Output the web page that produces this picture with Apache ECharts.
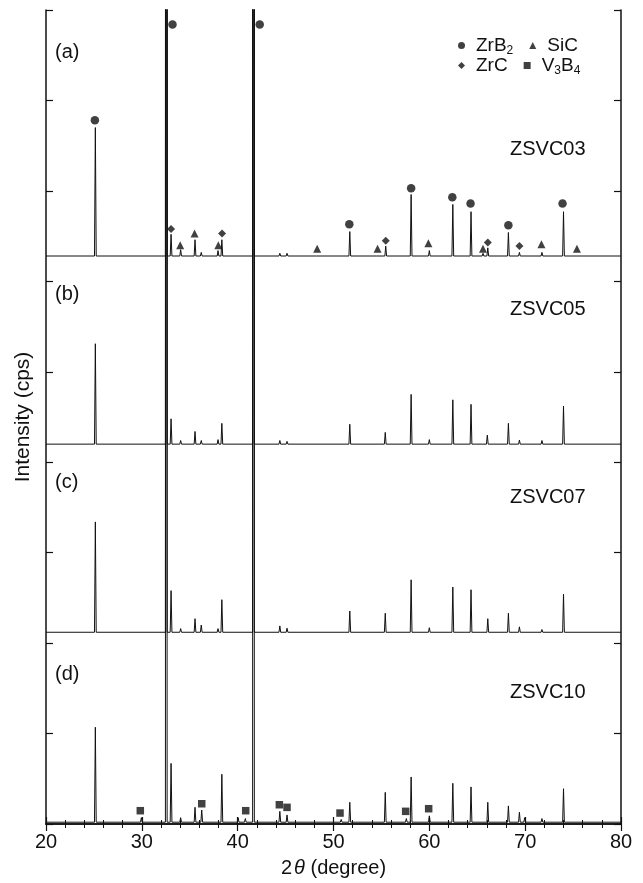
<!DOCTYPE html>
<html>
<head>
<meta charset="utf-8">
<title>XRD ZSVC</title>
<script src="https://cdn.jsdelivr.net/npm/echarts@6/dist/echarts.min.js"></script>
<style>
  html, body { margin: 0; padding: 0; background: #fff; }
  #chart { width: 643px; height: 883px; }
</style>
</head>
<body>
<div id="chart"></div>
<script>
// peak lists: [2theta, height above baseline]
const peaksA = [[25.15, 1.42], [32.55, 40], [33.05, 0.24], [34.05, 0.07], [35.55, 0.18], [36.2, 0.04],
  [37.95, 0.06], [38.35, 0.18], [41.65, 40], [44.4, 0.03], [45.15, 0.03], [48.3, 0.02], [51.7, 0.27],
  [54.6, 0.02], [55.45, 0.11], [58.1, 0.68], [60.0, 0.06], [62.45, 0.57], [64.35, 0.49], [65.6, 0.03],
  [66.1, 0.09], [68.25, 0.26], [69.4, 0.04], [71.75, 0.04], [74.0, 0.49], [75.4, 0.02]];
const peaksB = [[25.15, 1.11], [32.55, 40], [33.05, 0.28], [34.05, 0.04], [35.55, 0.14], [36.2, 0.04],
  [37.95, 0.05], [38.35, 0.23], [41.65, 40], [44.4, 0.04], [45.15, 0.03], [51.7, 0.22], [55.4, 0.13],
  [58.1, 0.55], [60.0, 0.05], [62.45, 0.49], [64.35, 0.44], [66.05, 0.10], [68.25, 0.23], [69.4, 0.045],
  [71.75, 0.04], [74.0, 0.42]];
const peaksC = [[25.15, 1.22], [29.9, 0.02], [32.55, 40], [33.05, 0.46], [34.05, 0.04], [35.55, 0.15],
  [36.2, 0.08], [37.95, 0.04], [38.35, 0.36], [41.65, 40], [44.4, 0.07], [45.15, 0.045], [51.7, 0.235],
  [55.4, 0.21], [58.1, 0.58], [60.0, 0.05], [62.45, 0.50], [64.35, 0.47], [66.1, 0.15], [68.25, 0.21],
  [69.4, 0.06], [71.75, 0.03], [74.0, 0.42]];
const peaksD = [[25.15, 1.05], [29.95, 0.05], [32.55, 40], [33.05, 0.65], [34.05, 0.05], [35.55, 0.165],
  [36.25, 0.135], [38.35, 0.53], [40.05, 0.05], [40.8, 0.04], [41.65, 40], [44.4, 0.12], [45.15, 0.08],
  [50.8, 0.03], [51.7, 0.22], [55.4, 0.33], [57.6, 0.04], [58.1, 0.50], [60.0, 0.07], [62.45, 0.43],
  [64.35, 0.39], [66.1, 0.22], [68.25, 0.18], [69.4, 0.11], [69.95, 0.05], [71.75, 0.04], [74.0, 0.37]];

const samples = ['ZSVC03', 'ZSVC05', 'ZSVC07', 'ZSVC10'];
const panels = ['(a)', '(b)', '(c)', '(d)'];
const offsets = [6.28, 4.20, 2.12, 0.02];

// phase markers [2theta, intensity]
const zrb2 = [[25.1, 7.78], [33.2, 8.84], [42.3, 8.84], [51.65, 6.63], [58.1, 7.03], [62.4, 6.93],
  [64.3, 6.86], [68.25, 6.62], [73.9, 6.86]];
const zrc = [[33.05, 6.58], [38.37, 6.53], [55.45, 6.45], [66.1, 6.43], [69.4, 6.39]];
const sic = [[34.0, 6.40], [35.5, 6.53], [37.98, 6.40], [48.3, 6.36], [54.6, 6.36], [59.9, 6.42],
  [65.6, 6.36], [71.7, 6.41], [75.4, 6.36]];
const v3b4 = [[29.84, 0.147], [36.25, 0.224], [40.84, 0.147], [44.35, 0.213], [45.15, 0.184],
  [50.68, 0.121], [57.53, 0.14], [59.93, 0.169]];

const xTicks = [20, 30, 40, 50, 60, 70, 80];

const font = '"Liberation Sans", Arial, Helvetica, sans-serif';
const ink = '#111';

// turn a peak list into a line trace sitting on its offset
function trace(peaks, off) {
  const w = 0.09;
  const pts = [[20, off]];
  peaks.forEach(p => {
    pts.push([p[0] - w, off], [p[0], off + p[1]], [p[0] + w, off]);
  });
  pts.push([80, off]);
  return pts;
}

const chart = echarts.init(document.getElementById('chart'));

const lineSeries = [peaksA, peaksB, peaksC, peaksD].map((pk, i) => ({
  name: samples[i],
  type: 'line',
  data: trace(pk, offsets[i]),
  showSymbol: false,
  clip: true,
  lineStyle: { color: ink, width: 1 },
  silent: true,
  z: 2
}));

function marks(name, data, symbol, size) {
  return {
    name: name, type: 'scatter', data: data, symbol: symbol, symbolSize: size,
    itemStyle: { color: ink }, z: 3
  };
}

const legendText = {
  'ZrB2': '{g| }{m|ZrB}{s|2}',
  'SiC': '{g| }{m|SiC}',
  'ZrC': '{g| }{m|ZrC}',
  'V3B4': '{g| }{m|V}{s|3}{m|B}{s|4}'
};
const legendBase = {
  left: 453,
  orient: 'horizontal',
  itemWidth: 7,
  itemHeight: 7,
  itemGap: 16,
  selectedMode: false,
  formatter: n => legendText[n],
  textStyle: {
    width: 45,
    color: ink,
    rich: {
      g: { width: 6, fontSize: 10 },
      m: { fontSize: 19, fontFamily: font, color: ink, lineHeight: 22 },
      s: { fontSize: 12, fontFamily: font, color: ink, verticalAlign: 'bottom', padding: [9, 0, 0, 0] }
    }
  }
};

const axisLineStyle = { color: ink, width: 1.5 };

const labelGraphics = [];
const panelY = [53, 295, 483, 675];
const sampleY = [150, 310, 498, 693];
panels.forEach((p, i) => {
  labelGraphics.push({
    type: 'text', left: 55, top: panelY[i] - 11,
    style: { text: p, fill: ink, font: '20px ' + font }
  });
  labelGraphics.push({
    type: 'text', left: 510, top: sampleY[i] - 11,
    style: { text: samples[i], fill: ink, font: '20px ' + font }
  });
});

chart.setOption({
  animation: false,
  backgroundColor: '#fff',
  grid: { left: 46, right: 22, top: 10, bottom: 57 },
  legend: [
    Object.assign({}, legendBase, { top: 31, data: ['ZrB2', 'SiC'] }),
    Object.assign({}, legendBase, { top: 51, data: ['ZrC', 'V3B4'] })
  ],
  xAxis: [
    {
      type: 'value', min: 20, max: 80, interval: 10, position: 'bottom',
      name: '{n|2}{t|θ}{n| (degree)}', nameLocation: 'middle', nameGap: 34,
      nameTextStyle: {
        rich: {
          n: { fontSize: 20, fontFamily: font, color: ink },
          t: { fontSize: 20, fontFamily: font, color: ink, fontStyle: 'italic', padding: [0, 0, 0, 2] }
        }
      },
      axisLine: { lineStyle: axisLineStyle },
      axisTick: { inside: true, length: 7, lineStyle: { color: ink, width: 1.2 } },
      minorTick: { show: true, splitNumber: 5, length: 4, lineStyle: { color: ink, width: 1 } },
      axisLabel: {
        fontSize: 20, fontFamily: font, color: ink, margin: 8,
        formatter: v => (xTicks.indexOf(v) >= 0 ? String(v) : '')
      },
      splitLine: { show: false }
    },
    {
      type: 'value', min: 20, max: 80, interval: 10, position: 'top',
      axisLine: { lineStyle: axisLineStyle },
      axisTick: { inside: true, length: 7, lineStyle: { color: ink, width: 1.2 } },
      minorTick: { show: true, splitNumber: 5, length: 4, lineStyle: { color: ink, width: 1 } },
      axisLabel: { show: false },
      splitLine: { show: false }
    }
  ],
  yAxis: [
    {
      type: 'value', min: 0, max: 9, interval: 1, position: 'left',
      name: 'Intensity (cps)', nameLocation: 'middle', nameGap: 12,
      nameTextStyle: { fontSize: 21, fontFamily: font, color: ink },
      axisLine: { show: true, lineStyle: axisLineStyle },
      axisTick: { show: true, inside: true, length: 7, lineStyle: { color: ink, width: 1.2 } },
      axisLabel: { show: false },
      splitLine: { show: false }
    },
    {
      type: 'value', min: 0, max: 9, interval: 1, position: 'right',
      axisLine: { show: true, lineStyle: axisLineStyle },
      axisTick: { show: true, inside: true, length: 7, lineStyle: { color: ink, width: 1.2 } },
      axisLabel: { show: false },
      splitLine: { show: false }
    }
  ],
  graphic: labelGraphics,
  series: lineSeries.concat([
    marks('ZrB2', zrb2, 'circle', 8.5),
    marks('SiC', sic, 'triangle', 8),
    marks('ZrC', zrc, 'diamond', 8),
    marks('V3B4', v3b4, 'rect', 7.5)
  ])
});
</script>
</body>
</html>
